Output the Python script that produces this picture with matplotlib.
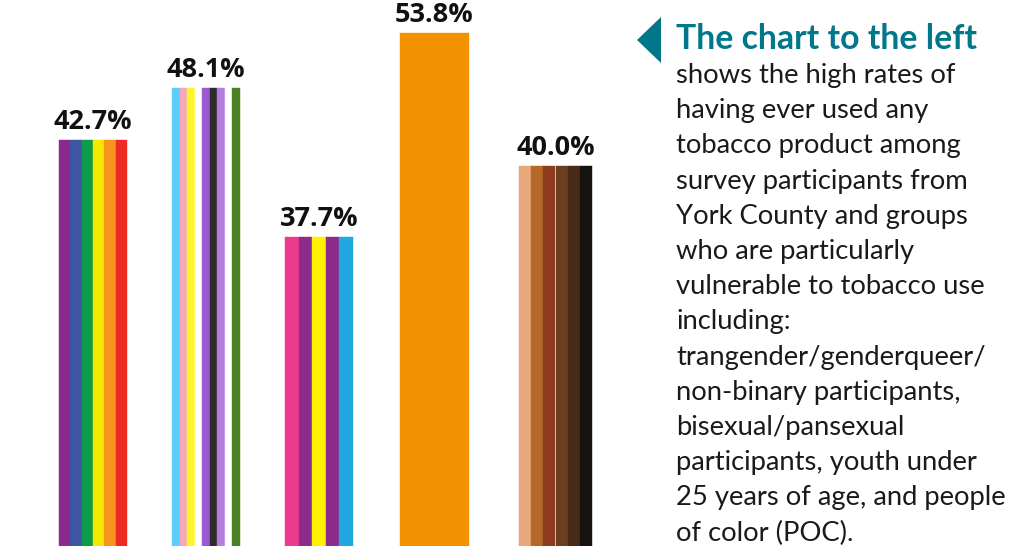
import matplotlib
matplotlib.use("Agg")
import matplotlib.pyplot as plt
from matplotlib.patches import Polygon

# bar heights as drawn in the picture, and the printed labels
HEIGHTS = [42.7, 48.1, 32.6, 53.8, 40.0]
LABELS  = ["42.7%", "48.1%", "37.7%", "53.8%", "40.0%"]

# stripe colours of each flag-style bar
STRIPES = [
    ["#8B2A8E", "#3C56A3", "#0E9A48", "#F5E800", "#F7941D", "#EE2A24"],
    ["#5BCEFA", "#F5A9B8", "#FFF430", "#FFFFFF", "#9C59D1", "#2C2C2C",
     "#B57EDC", "#FFFFFF", "#4A8123"],
    ["#EC3B8E", "#8E2A8C", "#FFF100", "#8E2A8C", "#21A8E1"],
    ["#F39200"],
    ["#E8A87C", "#B5682A", "#8E3A1E", "#6A3F1F", "#4A2A1A", "#161210"],
]

TITLE = "The chart to the left"
BODY = [
    "shows the high rates of",
    "having ever used any",
    "tobacco product among",
    "survey participants from",
    "York County and groups",
    "who are particularly",
    "vulnerable to tobacco use",
    "including:",
    "trangender/genderqueer/",
    "non-binary participants,",
    "bisexual/pansexual",
    "participants, youth under",
    "25 years of age, and people",
    "of color (POC).",
]

W, H = 1030, 546
X_CENTER = [93, 206, 319, 434.5, 555.5]   # pixel layout
BAR_W    = [68, 68, 68, 69, 73]
TEAL = "#00788A"

fig = plt.figure(figsize=(W / 100, H / 100), dpi=100)
ax = fig.add_axes([0, 0, 620 / W, 1])
ax.set_xlim(0, 620)
ax.set_ylim(0.58, 57.22)   # baseline sits just below the picture edge
ax.axis("off")

for xc, bw, h, lab, cols in zip(X_CENTER, BAR_W, HEIGHTS, LABELS, STRIPES):
    n = len(cols)
    sw = bw / n
    left = xc - bw / 2
    for i, c in enumerate(cols):
        ax.bar(left + sw * (i + 0.5), h, width=sw, color=c,
               edgecolor=c, linewidth=0.3)
    ax.text(xc, h + 0.55, lab, ha="center", va="bottom",
            fontsize=19.5, fontweight="bold", family="Open Sans", color="#111111")

# pointer triangle
tri = Polygon([(637 / W, 1 - 40 / H), (661 / W, 1 - 17 / H), (661 / W, 1 - 63 / H)],
              closed=True, transform=fig.transFigure, color=TEAL, lw=0)
fig.patches.append(tri)

fig.text(676 / W, 1 - 49 / H, TITLE, ha="left", va="baseline",
         fontsize=24.3, fontweight="bold", family="Lato", color=TEAL)
for i, line in enumerate(BODY):
    y = 83 + i * 35.2
    fig.text(676 / W, 1 - y / H, line, ha="left", va="baseline",
             fontsize=19.7, family="Lato", color="#1a1a1a")

fig.savefig("out.png", dpi=100)
